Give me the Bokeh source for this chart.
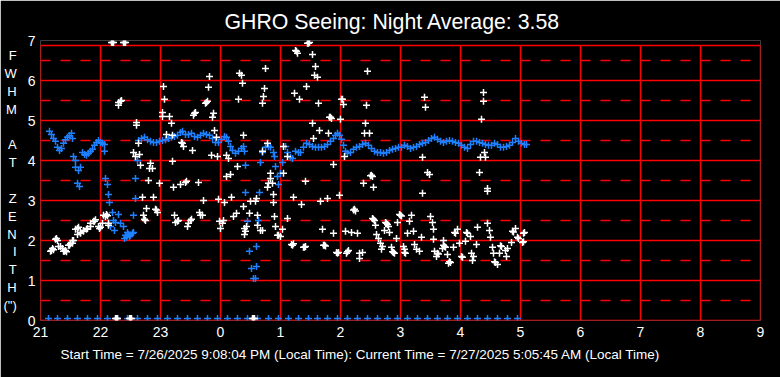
from bokeh.plotting import figure
from bokeh.models import FixedTicker, ColumnDataSource, Title
from bokeh.embed import file_html
from bokeh.resources import INLINE

# ---------------- data ----------------
# x values are minutes after 21:00 local time, y values are FWHM (arcsec)
title_text = "GHRO Seeing: Night Average: 3.58"
footer_text = "Start Time = 7/26/2025 9:08:04 PM (Local Time): Current Time = 7/27/2025 5:05:45 AM (Local Time)"
hour_labels = ["21", "22", "23", "0", "1", "2", "3", "4", "5", "6", "7", "8", "9"]
fwhm_ticks = [0, 1, 2, 3, 4, 5, 6, 7]
ylabel_letters = ["F", "W", "H", "M", "", "A", "T", "", "Z", "E", "N", "I", "T", "H", "(\")"]

# blue series (smoothed / zenith corrected seeing)
blue_pts = [
    (9, 4.73), (11, 4.65), (13, 4.55), (15, 4.48), (17, 4.33), (19, 4.25), (21, 4.30), (23, 4.43),
    (25, 4.52), (27, 4.58), (29, 4.62), (31, 4.68), (32, 4.55), (33, 4.10), (35, 4.00), (35, 3.83),
    (38, 3.75), (40, 3.83), (37, 3.43), (39, 3.35),
    (42, 4.20), (44, 4.15), (46, 4.13), (48, 4.18), (50, 4.23), (52, 4.28), (54, 4.38), (56, 4.45),
    (58, 4.50), (60, 4.45), (62, 4.43), (64, 4.40), (64, 4.23),
    (65, 3.55), (67, 3.40), (68, 3.15), (69, 2.95), (72, 2.70), (78, 2.65), (73, 2.50), (75, 2.45),
    (80, 2.43), (70, 2.35), (74, 2.25), (83, 2.35), (84, 2.05), (85, 2.13), (86, 2.08), (87, 2.20),
    (88, 2.15), (89, 2.10), (90, 2.13), (92, 2.18), (93, 2.20), (93, 2.63), (95, 3.05), (95, 3.55),
    (97, 4.00),
    (98, 4.50), (101, 4.55), (104, 4.58), (107, 4.52), (110, 4.48), (113, 4.45), (116, 4.45), (119, 4.48),
    (122, 4.50), (125, 4.52), (128, 4.55), (131, 4.58), (134, 4.60), (137, 4.63), (140, 4.70), (142, 4.73),
    (145, 4.65), (148, 4.65), (151, 4.68), (154, 4.60), (157, 4.58), (160, 4.63), (163, 4.68), (166, 4.65),
    (169, 4.63), (172, 4.55), (175, 4.45), (178, 4.45), (181, 4.53), (184, 4.60), (186, 4.58), (188, 4.48),
    (190, 4.35), (192, 4.25), (195, 4.18), (198, 4.23), (201, 4.30), (203, 4.35), (204, 4.23), (205, 3.88),
    (205, 3.20), (207, 2.48), (209, 1.73), (211, 1.30), (213, 1.05), (215, 1.05), (216, 1.35), (216, 1.85),
    (218, 2.50), (219, 3.20), (220, 3.95), (222, 4.20), (225, 4.33), (228, 4.35), (230, 4.33), (233, 4.20),
    (234, 4.10), (235, 3.85), (237, 3.60), (238, 3.40), (240, 3.68), (242, 3.95), (245, 4.35), (247, 4.20),
    (250, 4.08), (252, 4.05), (255, 4.23), (258, 4.20), (260, 4.20), (263, 4.33), (266, 4.43), (269, 4.40),
    (272, 4.35), (275, 4.33), (278, 4.33), (281, 4.33), (284, 4.35), (287, 4.40), (290, 4.48), (293, 4.55),
    (295, 4.63), (297, 4.68), (299, 4.63), (301, 4.53), (303, 4.38), (305, 4.23), (307, 4.18), (310, 4.20),
    (313, 4.28), (316, 4.33), (319, 4.35), (322, 4.40), (325, 4.43), (328, 4.38), (331, 4.30), (334, 4.23),
    (337, 4.20), (340, 4.20), (343, 4.18), (346, 4.20), (349, 4.25), (352, 4.28), (355, 4.30), (358, 4.33),
    (361, 4.33), (364, 4.38), (367, 4.35), (370, 4.30), (373, 4.33), (376, 4.35), (379, 4.40), (382, 4.43),
    (385, 4.45), (388, 4.50), (391, 4.55), (394, 4.58), (397, 4.53), (400, 4.48), (403, 4.45), (406, 4.48),
    (409, 4.50), (412, 4.48), (415, 4.45), (418, 4.43), (421, 4.38), (424, 4.33), (427, 4.30), (430, 4.40),
    (433, 4.48), (436, 4.48), (439, 4.45), (442, 4.43), (445, 4.40), (448, 4.38), (451, 4.38), (454, 4.43),
    (457, 4.40), (460, 4.33), (463, 4.33), (466, 4.35), (469, 4.38), (472, 4.45), (475, 4.55), (478, 4.48),
    (481, 4.43), (484, 4.40), (486, 4.40),
]

# blue samples with no measurement (plotted on the floor)
blue_zero_minutes = [8, 17, 27, 37, 47, 57, 67, 77, 87, 97, 107, 117, 127, 137, 147, 157, 167, 177,
                     187, 197, 207, 217, 228, 238, 248, 258, 268, 277, 287, 297, 307, 317, 327, 337,
                     347, 357, 367, 377, 387, 397, 407, 417, 427, 437, 447, 457, 467, 477]
blue_zero_value = 0.05

# white series (individual measurements)
white_pts = [
    (10, 1.73), (11, 1.75), (12, 1.80), (13, 1.77), (15, 2.03), (16, 2.05), (17, 2.00), (18, 1.85),
    (20, 1.85), (22, 1.80), (23, 1.73), (24, 1.73), (25, 1.75), (26, 1.72), (28, 1.88), (29, 1.88),
    (30, 1.92), (32, 2.00), (32, 1.93), (33, 2.00), (35, 2.28), (37, 2.30), (37, 2.15), (38, 2.33),
    (40, 2.20), (40, 2.18), (43, 2.25), (43, 2.23), (46, 2.28), (47, 2.30), (50, 2.43), (50, 2.35),
    (53, 2.48), (54, 2.48), (55, 2.52), (58, 2.35), (59, 2.30), (60, 2.33), (62, 2.43), (63, 2.63),
    (65, 2.60), (66, 2.65), (67, 2.62), (68, 2.43), (68, 2.38),
    (71, 6.95), (72, 6.95), (73, 6.95), (83, 6.95), (84, 6.95), (85, 6.95),
    (75, 0.05), (76, 0.05), (77, 0.05), (89, 0.05), (90, 0.05), (91, 0.05), (212, 0.05), (213, 0.05), (214, 0.05),
    (78, 5.45), (80, 5.48), (78, 5.38), (81, 5.50),
    (96, 4.95), (96, 4.88), (98, 4.43), (93, 4.20), (95, 4.10), (99, 4.15), (100, 3.88),
    (102, 3.08), (103, 2.63), (104, 2.53), (105, 2.50), (106, 2.80), (108, 3.50), (109, 3.80), (110, 3.93),
    (112, 3.80), (113, 3.08), (115, 2.78), (116, 2.76), (117, 2.70), (119, 3.43),
    (122, 5.20), (122, 5.10), (123, 5.85), (124, 5.53), (126, 4.65), (129, 5.10), (131, 4.93), (132, 4.63),
    (132, 3.98), (133, 3.33), (134, 2.63), (135, 2.45), (137, 2.48), (138, 2.50),
    (140, 3.40), (141, 4.45), (142, 4.43), (143, 4.35), (145, 3.45), (146, 3.48), (147, 2.35), (148, 2.43),
    (150, 2.50), (151, 2.53), (152, 4.25), (153, 5.13), (154, 5.18), (155, 5.20), (158, 3.45), (159, 2.70),
    (160, 2.63), (162, 2.63), (163, 3.00), (165, 5.43), (166, 5.45), (167, 5.48), (168, 5.83), (169, 6.10),
    (171, 4.13), (172, 5.08), (173, 5.18), (174, 4.75), (176, 4.58), (177, 4.10), (178, 3.03), (179, 2.48),
    (180, 2.30), (182, 2.43), (183, 2.50), (184, 2.95), (186, 4.13), (188, 4.05), (186, 3.60), (190, 3.65),
    (191, 3.08), (193, 2.60), (196, 2.68), (197, 3.85), (198, 5.53), (199, 6.18), (201, 6.13), (202, 5.93),
    (203, 4.63), (203, 2.85), (204, 2.30), (204, 2.15), (205, 2.23), (206, 2.35), (209, 2.68), (210, 2.98),
    (215, 2.98), (216, 3.05), (217, 2.63), (217, 2.38), (220, 2.25), (222, 2.25),
    (222, 5.43), (223, 5.60), (224, 5.80), (225, 6.30), (222, 4.23), (227, 4.43), (227, 3.33), (228, 3.43),
    (230, 3.55), (230, 3.68), (232, 3.43), (233, 3.15), (233, 2.95), (234, 2.60), (235, 2.35), (237, 2.13),
    (238, 2.13), (240, 2.10), (242, 2.28), (243, 4.35), (243, 3.68), (247, 4.10), (247, 2.55), (251, 1.90),
    (252, 1.88), (253, 1.92), (253, 3.08), (254, 5.68), (256, 6.73), (257, 6.68), (255, 6.75), (259, 5.53),
    (261, 2.90), (263, 1.83), (264, 1.83), (265, 1.85), (265, 3.48), (266, 5.85), (268, 6.93), (269, 6.95),
    (267, 6.93), (272, 6.65), (272, 4.93), (273, 4.55), (275, 6.35), (274, 6.13), (277, 6.08), (278, 5.43),
    (279, 4.75), (280, 2.98), (282, 2.28), (283, 1.88), (284, 1.88), (285, 1.86), (287, 3.05), (288, 4.68),
    (289, 5.08), (290, 5.08), (291, 5.05), (293, 3.90), (293, 2.18), (296, 1.70), (297, 1.68), (298, 1.70),
    (299, 3.13), (300, 5.03), (301, 5.53), (302, 5.53), (303, 5.40), (304, 4.10), (305, 2.23), (306, 1.68),
    (307, 1.72), (308, 1.75), (311, 2.20), (313, 2.76), (314, 2.78), (315, 2.74), (317, 2.18), (319, 1.68),
    (322, 1.70), (319, 1.55), (323, 3.43), (324, 4.68), (329, 4.68), (325, 4.93), (326, 5.38), (327, 6.23),
    (330, 3.62), (331, 3.63), (332, 3.60), (333, 3.33), (332, 2.55), (333, 2.53), (334, 2.50), (335, 2.38),
    (336, 2.15), (338, 2.05), (340, 1.93), (342, 1.85), (341, 1.78), (344, 2.25), (345, 2.45), (346, 2.43),
    (347, 2.40), (348, 2.35), (349, 2.20), (351, 1.83), (352, 1.72), (353, 1.70), (354, 1.68), (356, 2.05),
    (357, 2.45), (359, 2.65), (360, 2.63), (361, 2.61), (363, 1.85), (364, 1.78), (364, 1.70), (365, 1.68),
    (367, 2.18), (369, 2.48), (371, 2.63), (373, 2.23), (374, 1.90), (376, 1.78), (379, 1.73), (381, 2.08),
    (382, 4.08), (382, 3.18), (384, 5.58), (385, 5.33), (387, 3.70), (389, 3.65), (390, 2.60), (392, 2.45),
    (393, 2.28), (393, 2.03), (394, 1.73), (396, 1.60), (397, 1.68), (398, 1.66), (402, 1.80), (403, 2.00),
    (403, 1.88), (404, 1.85), (405, 1.83), (407, 1.65), (408, 1.43), (409, 1.47), (410, 1.45), (413, 1.83),
    (414, 2.20), (415, 2.18), (417, 2.28), (419, 1.93), (421, 1.60), (422, 1.58), (425, 1.98), (426, 2.20),
    (427, 2.18), (430, 2.10), (431, 1.68), (432, 1.50), (433, 1.60), (436, 1.90), (437, 2.33), (439, 3.70),
    (440, 4.08), (441, 5.03), (443, 5.70), (443, 5.48), (444, 4.20), (445, 4.08), (447, 3.30), (447, 3.23),
    (447, 2.43), (449, 2.25), (450, 2.08), (452, 1.83), (453, 1.68), (454, 1.47), (455, 1.45), (457, 1.40),
    (459, 1.68), (460, 1.87), (461, 1.85), (465, 1.75), (466, 1.60), (467, 1.80), (471, 1.95), (472, 2.23),
    (473, 2.21), (475, 2.30), (477, 2.08), (478, 2.05), (482, 1.95), (483, 1.97), (483, 2.18), (484, 2.20),
]

# grid structure
grid_hours = list(range(13))
grid_solid_y = [0, 1, 2, 3, 4, 5, 6]
grid_dash_y = [0.5, 1.5, 2.5, 3.5, 4.5, 5.5, 6.5]
frame_top = 6.875

# ---------------- figure ----------------
FONT = "Liberation Sans"
p = figure(width=780, height=377, x_range=(0, 12), y_range=(0, 7),
           output_backend="svg", toolbar_location=None,
           min_border_left=40, min_border_right=20, min_border_top=40, min_border_bottom=57,
           background_fill_color="black", border_fill_color="black", outline_line_color=None)
p.xgrid.visible = False
p.ygrid.visible = False

# title (above) and footer (below)
p.title.text = title_text
p.title.align = "left"
p.title.offset = 184
p.title.standoff = 13
p.title.text_color = "white"
p.title.text_font = FONT
p.title.text_font_size = "21.3px"
p.title.text_font_style = "normal"

p.add_layout(Title(text=footer_text, align="left", offset=20, standoff=11, text_color="white",
                   text_font=FONT, text_font_size="13.5px", text_font_style="normal"), "below")

p.xaxis.ticker = FixedTicker(ticks=grid_hours)
p.xaxis.major_label_overrides = {h: lab for h, lab in zip(grid_hours, hour_labels)}
p.yaxis.ticker = FixedTicker(ticks=fwhm_ticks)
for ax in (p.xaxis[0], p.yaxis[0]):
    ax.axis_line_color = None
    ax.major_tick_line_color = None
    ax.minor_tick_line_color = None
    ax.major_tick_out = 0
    ax.major_tick_in = 0
    ax.minor_tick_out = 0
    ax.minor_tick_in = 0
    ax.major_label_text_color = "white"
    ax.major_label_text_font = FONT
    ax.major_label_text_font_size = "14px"
p.xaxis.major_label_standoff = 6
p.yaxis.major_label_standoff = 5

# stacked vertical y-axis label
p.yaxis.axis_label = "\n".join(ylabel_letters)
p.yaxis.axis_label_orientation = "horizontal"
p.yaxis.axis_label_standoff = 8
p.yaxis.axis_label_text_color = "white"
p.yaxis.axis_label_text_font = FONT
p.yaxis.axis_label_text_font_size = "13px"
p.yaxis.axis_label_text_font_style = "normal"
p.yaxis.axis_label_text_line_height = 1.19

# grid lines
RED = "#ff0000"
p.segment(x0=[0] * len(grid_solid_y), x1=[12] * len(grid_solid_y), y0=grid_solid_y, y1=grid_solid_y,
          line_color=RED, line_width=1.5)
p.segment(x0=[0], x1=[12], y0=[frame_top], y1=[frame_top], line_color=RED, line_width=1.5)
p.segment(x0=[0] * len(grid_dash_y), x1=[12] * len(grid_dash_y), y0=grid_dash_y, y1=grid_dash_y,
          line_color=RED, line_width=1.5, line_dash="10 10")
p.segment(x0=grid_hours, x1=grid_hours, y0=[0] * len(grid_hours), y1=[frame_top] * len(grid_hours),
          line_color=RED, line_width=1.5)

# data
BLUE = "#1e80ff"
blue_src = ColumnDataSource(dict(x=[m / 60 for m, _ in blue_pts], y=[v for _, v in blue_pts]))
blue0_src = ColumnDataSource(dict(x=[m / 60 for m in blue_zero_minutes],
                                  y=[blue_zero_value] * len(blue_zero_minutes)))
white_src = ColumnDataSource(dict(x=[m / 60 for m, _ in white_pts], y=[v for _, v in white_pts]))

p.scatter("x", "y", source=blue_src, marker="cross", size=7, line_color=BLUE, line_width=1.5)
p.scatter("x", "y", source=blue0_src, marker="cross", size=7, line_color=BLUE, line_width=1.5)
p.scatter("x", "y", source=white_src, marker="cross", size=7, line_color="white", line_width=1.5)

open("out.html", "w").write(file_html(p, INLINE))
